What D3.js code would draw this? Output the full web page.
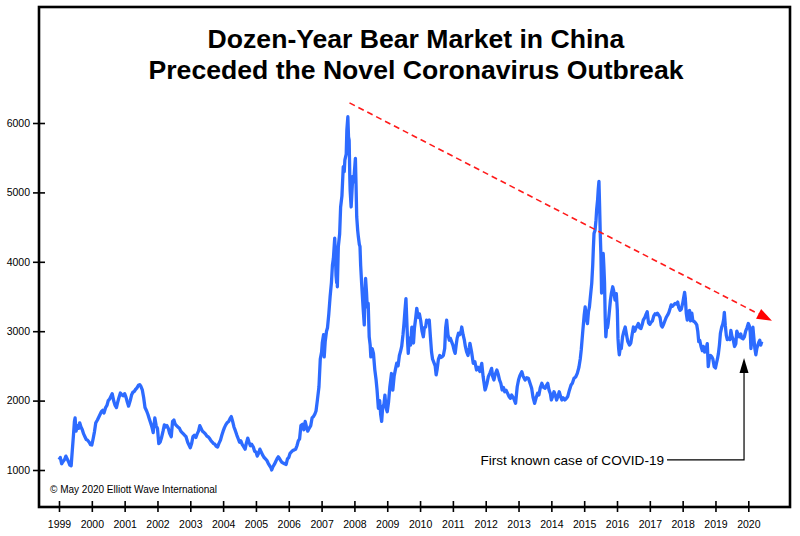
<!DOCTYPE html>
<html><head><meta charset="utf-8">
<script src="https://cdn.jsdelivr.net/npm/d3@7"></script>
<style>body{margin:0;background:#fff}svg{display:block}text{font-family:"Liberation Sans",Arial,sans-serif}</style>
</head><body><svg id="c" width="800" height="536"></svg>
<script>
const titleLines = ["Dozen-Year Bear Market in China", "Preceded the Novel Coronavirus Outbreak"];
const yearTicks = d3.range(1999, 2021);
const valueTicks = [1000, 2000, 3000, 4000, 5000, 6000];
const copyright = "© May 2020 Elliott Wave International";
const covidLabel = "First known case of COVID-19";
// [decimal year, Shanghai Composite]
const sse = [
[1999.00,1150],[1999.04,1180],[1999.08,1090],[1999.12,1120],[1999.17,1150],[1999.21,1200],[1999.25,1160],[1999.29,1120],[1999.33,1070],[1999.37,1060],[1999.40,1250],[1999.44,1500],[1999.47,1700],[1999.49,1750],[1999.52,1560],[1999.56,1640],[1999.60,1600],[1999.63,1680],[1999.67,1620],[1999.71,1580],[1999.75,1520],[1999.79,1480],[1999.83,1440],[1999.87,1430],[1999.92,1400],[1999.96,1366],
[2000.00,1360],[2000.04,1450],[2000.08,1550],[2000.12,1680],[2000.17,1720],[2000.21,1760],[2000.25,1800],[2000.29,1840],[2000.33,1860],[2000.37,1820],[2000.42,1900],[2000.46,1930],[2000.50,2000],[2000.54,2020],[2000.58,2060],[2000.62,2100],[2000.67,1990],[2000.71,1930],[2000.75,1900],[2000.79,1980],[2000.83,2050],[2000.87,2110],[2000.92,2080],[2000.96,2070],
[2001.00,2100],[2001.04,2050],[2001.08,1980],[2001.12,1920],[2001.17,2000],[2001.21,2080],[2001.25,2120],[2001.29,2130],[2001.33,2160],[2001.37,2180],[2001.42,2220],[2001.46,2230],[2001.50,2200],[2001.54,2150],[2001.58,2040],[2001.62,1900],[2001.67,1850],[2001.71,1800],[2001.75,1740],[2001.79,1680],[2001.83,1620],[2001.87,1540],[2001.92,1750],[2001.96,1640],
[2002.00,1600],[2002.04,1380],[2002.08,1400],[2002.12,1460],[2002.17,1560],[2002.21,1650],[2002.25,1620],[2002.29,1640],[2002.33,1600],[2002.37,1530],[2002.42,1480],[2002.46,1700],[2002.50,1720],[2002.54,1660],[2002.58,1640],[2002.62,1620],[2002.67,1600],[2002.71,1560],[2002.75,1540],[2002.79,1520],[2002.83,1500],[2002.87,1480],[2002.92,1400],[2002.96,1360],
[2003.00,1320],[2003.04,1380],[2003.08,1480],[2003.12,1500],[2003.17,1470],[2003.21,1520],[2003.25,1560],[2003.29,1640],[2003.33,1600],[2003.37,1560],[2003.42,1540],[2003.46,1520],[2003.50,1490],[2003.54,1480],[2003.58,1460],[2003.62,1430],[2003.67,1400],[2003.71,1380],[2003.75,1370],[2003.79,1340],[2003.83,1330],[2003.87,1380],[2003.92,1430],[2003.96,1500],
[2004.00,1560],[2004.04,1610],[2004.08,1650],[2004.12,1680],[2004.17,1700],[2004.21,1740],[2004.25,1770],[2004.29,1700],[2004.33,1620],[2004.37,1570],[2004.42,1500],[2004.46,1450],[2004.50,1400],[2004.54,1420],[2004.58,1370],[2004.62,1340],[2004.67,1300],[2004.71,1390],[2004.75,1460],[2004.79,1400],[2004.83,1350],[2004.87,1370],[2004.92,1330],[2004.96,1270],
[2005.00,1260],[2005.04,1200],[2005.08,1240],[2005.12,1300],[2005.17,1250],[2005.21,1210],[2005.25,1180],[2005.29,1160],[2005.33,1140],[2005.37,1100],[2005.42,1060],[2005.46,1030],[2005.48,1000],[2005.52,1050],[2005.56,1080],[2005.60,1120],[2005.64,1160],[2005.68,1190],[2005.71,1170],[2005.75,1140],[2005.79,1110],[2005.83,1100],[2005.87,1090],[2005.92,1080],[2005.96,1160],
[2006.00,1180],[2006.04,1240],[2006.08,1260],[2006.12,1280],[2006.17,1290],[2006.21,1300],[2006.25,1350],[2006.29,1420],[2006.33,1450],[2006.37,1640],[2006.42,1660],[2006.46,1580],[2006.50,1700],[2006.54,1620],[2006.58,1560],[2006.62,1600],[2006.67,1640],[2006.71,1750],[2006.75,1770],[2006.79,1800],[2006.83,1850],[2006.87,2000],[2006.92,2200],[2006.96,2600],
[2007.00,2700],[2007.02,2830],[2007.06,2950],[2007.08,2630],[2007.11,2850],[2007.15,3000],[2007.18,3050],[2007.22,3250],[2007.26,3500],[2007.30,3700],[2007.33,3950],[2007.36,4050],[2007.40,4340],[2007.42,4100],[2007.44,3800],[2007.46,3700],[2007.47,3900],[2007.48,3640],[2007.51,4220],[2007.55,4400],[2007.58,4790],[2007.62,4950],[2007.66,5370],[2007.69,5300],[2007.71,5470],[2007.75,5550],[2007.77,5900],[2007.80,6090],[2007.82,5800],[2007.84,5750],[2007.86,5200],[2007.87,5030],[2007.90,4790],[2007.93,5050],[2007.95,5230],[2007.98,5150],
[2008.00,5300],[2008.03,5490],[2008.05,5100],[2008.07,4650],[2008.10,4450],[2008.12,4360],[2008.15,4250],[2008.17,4220],[2008.19,3950],[2008.22,3690],[2008.25,3450],[2008.27,3300],[2008.30,3090],[2008.32,3500],[2008.34,3760],[2008.37,3550],[2008.39,3350],[2008.42,3400],[2008.45,2920],[2008.48,2800],[2008.50,2630],[2008.54,2750],[2008.58,2680],[2008.62,2450],[2008.66,2300],[2008.69,2150],[2008.73,1890],[2008.77,2000],[2008.80,1800],[2008.83,1700],[2008.86,1900],[2008.90,1950],[2008.93,2080],[2008.96,1900],
[2009.00,1840],[2009.04,1980],[2009.08,2200],[2009.13,2390],[2009.17,2150],[2009.21,2350],[2009.25,2450],[2009.29,2540],[2009.33,2500],[2009.37,2650],[2009.40,2700],[2009.44,2780],[2009.48,2950],[2009.51,3110],[2009.54,3300],[2009.57,3470],[2009.60,3100],[2009.62,2850],[2009.64,2680],[2009.67,2900],[2009.71,2800],[2009.75,3060],[2009.78,3000],[2009.80,2830],[2009.83,3050],[2009.87,3200],[2009.90,3330],[2009.94,3200],[2009.98,3250],
[2010.02,3150],[2010.06,3000],[2010.10,2920],[2010.13,3050],[2010.17,3060],[2010.20,3160],[2010.24,3130],[2010.28,3160],[2010.31,2950],[2010.35,2700],[2010.38,2600],[2010.42,2550],[2010.46,2500],[2010.49,2370],[2010.52,2450],[2010.56,2600],[2010.60,2650],[2010.63,2620],[2010.67,2630],[2010.71,2650],[2010.75,2750],[2010.78,3050],[2010.81,3160],[2010.85,2950],[2010.89,2870],[2010.92,2900],[2010.96,2850],
[2011.00,2800],[2011.04,2720],[2011.07,2680],[2011.10,2800],[2011.13,2900],[2011.17,2970],[2011.21,2950],[2011.25,3000],[2011.27,3060],[2011.31,2950],[2011.35,2870],[2011.38,2780],[2011.42,2700],[2011.46,2650],[2011.50,2760],[2011.52,2825],[2011.57,2700],[2011.62,2537],[2011.67,2560],[2011.72,2441],[2011.77,2480],[2011.82,2420],[2011.88,2537],[2011.92,2350],[2011.98,2153],
[2012.00,2180],[2012.04,2250],[2012.08,2345],[2012.13,2400],[2012.18,2465],[2012.21,2350],[2012.25,2297],[2012.29,2380],[2012.34,2441],[2012.38,2380],[2012.42,2297],[2012.46,2250],[2012.50,2153],[2012.54,2190],[2012.58,2128],[2012.62,2150],[2012.67,2100],[2012.71,2060],[2012.75,2033],[2012.79,2080],[2012.83,2050],[2012.87,2010],[2012.91,1961],[2012.96,2200],
[2013.00,2297],[2013.04,2360],[2013.10,2417],[2013.14,2350],[2013.20,2297],[2013.25,2330],[2013.30,2321],[2013.35,2250],[2013.40,2177],[2013.44,2050],[2013.49,1961],[2013.53,2030],[2013.58,2105],[2013.62,2080],[2013.66,2180],[2013.71,2249],[2013.76,2190],[2013.81,2177],[2013.85,2220],[2013.89,2249],[2013.93,2150],[2013.97,2100],
[2014.00,2009],[2014.04,2060],[2014.08,2128],[2014.12,2080],[2014.16,2009],[2014.20,2060],[2014.24,2128],[2014.28,2060],[2014.32,2009],[2014.36,2040],[2014.41,2009],[2014.46,2033],[2014.50,2060],[2014.55,2150],[2014.60,2225],[2014.64,2250],[2014.69,2321],[2014.74,2340],[2014.79,2393],[2014.84,2480],[2014.88,2600],[2014.91,2729],[2014.96,3017],
[2015.00,3230],[2015.03,3350],[2015.06,3200],[2015.10,3110],[2015.13,3280],[2015.16,3350],[2015.19,3500],[2015.23,3690],[2015.26,3950],[2015.28,4200],[2015.30,4410],[2015.33,4450],[2015.36,4600],[2015.38,4750],[2015.41,4900],[2015.43,5050],[2015.45,5160],[2015.47,4800],[2015.49,4400],[2015.51,4100],[2015.53,3550],[2015.55,3900],[2015.58,4120],[2015.60,3930],[2015.62,3700],[2015.64,3200],[2015.66,2920],[2015.69,3100],[2015.71,3050],[2015.73,3110],[2015.76,3250],[2015.80,3450],[2015.83,3550],[2015.87,3640],[2015.90,3580],[2015.94,3450],[2015.98,3540],
[2016.01,3300],[2016.03,2900],[2016.05,2750],[2016.07,2660],[2016.10,2760],[2016.13,2750],[2016.17,2920],[2016.21,3000],[2016.25,3060],[2016.29,2950],[2016.33,2850],[2016.38,2800],[2016.42,2830],[2016.46,2950],[2016.50,3060],[2016.54,3000],[2016.58,3050],[2016.62,3080],[2016.65,3110],[2016.69,3050],[2016.73,3040],[2016.77,3100],[2016.80,3160],[2016.85,3200],[2016.89,3250],[2016.92,3280],[2016.96,3120],
[2017.00,3100],[2017.04,3130],[2017.08,3150],[2017.12,3220],[2017.16,3250],[2017.19,3240],[2017.23,3260],[2017.27,3230],[2017.31,3200],[2017.35,3080],[2017.38,3060],[2017.42,3100],[2017.46,3150],[2017.50,3200],[2017.54,3230],[2017.58,3270],[2017.62,3330],[2017.65,3380],[2017.69,3360],[2017.73,3380],[2017.77,3400],[2017.81,3390],[2017.85,3420],[2017.88,3340],[2017.92,3300],[2017.96,3320],
[2018.00,3400],[2018.03,3480],[2018.06,3560],[2018.08,3480],[2018.11,3260],[2018.14,3160],[2018.17,3280],[2018.21,3300],[2018.24,3150],[2018.28,3260],[2018.31,3150],[2018.35,3140],[2018.39,3120],[2018.43,3090],[2018.46,3000],[2018.49,2850],[2018.52,2870],[2018.56,2780],[2018.60,2720],[2018.63,2780],[2018.67,2700],[2018.71,2730],[2018.75,2820],[2018.78,2490],[2018.81,2600],[2018.85,2650],[2018.89,2630],[2018.92,2600],[2018.96,2490],
[2019.00,2470],[2019.03,2540],[2019.06,2600],[2019.09,2680],[2019.12,2800],[2019.15,2970],[2019.19,3060],[2019.22,3100],[2019.25,3170],[2019.27,3270],[2019.30,3080],[2019.33,2940],[2019.36,2880],[2019.40,2900],[2019.44,2880],[2019.47,3010],[2019.50,2930],[2019.54,2880],[2019.58,2780],[2019.62,2820],[2019.65,3000],[2019.69,2950],[2019.73,2920],[2019.77,2960],[2019.80,2900],[2019.84,2890],[2019.88,2920],[2019.92,3000],[2019.96,3050],
[2020.00,3110],[2020.03,3080],[2020.06,2980],[2020.08,2750],[2020.11,2880],[2020.14,3060],[2020.17,2900],[2020.20,2750],[2020.23,2660],[2020.26,2750],[2020.29,2800],[2020.32,2840],[2020.35,2870],[2020.38,2800],[2020.41,2850]
];
// trend arrow (from, to) and COVID arrow points in data units
const trendLine = [[2007.85, 6290], [2020.72, 3150]];
const covidArrow = [[2019.87, 1145], [2019.87, 2614]];

const svg = d3.select("#c");
const frame = {left: 39, top: 7, right: 790, bottom: 507};
const x = d3.scaleLinear().domain([1999, 2020]).range([59, 748.3]);
const y = d3.scaleLinear().domain([1000, 6000]).range([470, 123]);

// frame
svg.append("rect").attr("x", frame.left).attr("y", frame.top)
  .attr("width", frame.right - frame.left).attr("height", frame.bottom - frame.top)
  .attr("fill", "none").attr("stroke", "#000").attr("stroke-width", 2.6);

// y axis
const yAxis = svg.append("g").attr("transform", `translate(${frame.left},0)`)
  .call(d3.axisLeft(y).tickValues(valueTicks).tickSize(6).tickPadding(3).tickFormat(d3.format("d")));
yAxis.select(".domain").remove();
yAxis.selectAll(".tick line").attr("x1", 6).attr("stroke", "#000").attr("stroke-width", 1.6);
yAxis.selectAll(".tick text").attr("font-size", 10.5).attr("fill", "#000")
  .attr("font-family", '"Liberation Sans",Arial,sans-serif');

// x axis
const xAxis = svg.append("g").attr("transform", `translate(0,${frame.bottom})`)
  .call(d3.axisBottom(x).tickValues(yearTicks).tickSize(5).tickPadding(9).tickFormat(d3.format("d")));
xAxis.select(".domain").remove();
xAxis.selectAll(".tick line").attr("y1", -6).attr("stroke", "#000").attr("stroke-width", 1.6);
xAxis.selectAll(".tick text").attr("font-size", 10.5).attr("fill", "#000")
  .attr("font-family", '"Liberation Sans",Arial,sans-serif');

// title
svg.append("g").selectAll("text").data(titleLines).join("text")
  .attr("x", 416).attr("y", (d, i) => 48 + i * 31)
  .attr("text-anchor", "middle").attr("font-size", 26.6).attr("font-weight", "bold").attr("fill", "#000")
  .text(d => d);

// series line
const line = d3.line().x(d => x(d[0])).y(d => y(d[1]));
svg.append("path").datum(sse).attr("d", line)
  .attr("fill", "none").attr("stroke", "#2d6bff").attr("stroke-width", 3.3).attr("stroke-linejoin", "round");

// red dashed trend arrow
const p0 = [x(trendLine[0][0]), y(trendLine[0][1])];
const p1 = [x(trendLine[1][0]), y(trendLine[1][1])];
const ang = Math.atan2(p1[1] - p0[1], p1[0] - p0[0]);
const headLen = 15, headHalf = 5.5;
const base = [p1[0] - headLen * Math.cos(ang), p1[1] - headLen * Math.sin(ang)];
svg.append("line").attr("x1", p0[0]).attr("y1", p0[1]).attr("x2", base[0]).attr("y2", base[1])
  .attr("stroke", "#ff1a1a").attr("stroke-width", 1.6).attr("stroke-dasharray", "6,4");
svg.append("path")
  .attr("d", `M${p1[0]},${p1[1]}L${base[0] - headHalf * Math.sin(ang)},${base[1] + headHalf * Math.cos(ang)}L${base[0] + headHalf * Math.sin(ang)},${base[1] - headHalf * Math.cos(ang)}Z`)
  .attr("fill", "#ff0000");

// COVID annotation
const cx = x(covidArrow[0][0]);
const cyLow = y(covidArrow[0][1]);
const cyTip = y(covidArrow[1][1]);
svg.append("text").attr("x", cx - 80).attr("y", cyLow + 5.5)
  .attr("text-anchor", "end").attr("font-size", 13.6).attr("fill", "#000").text(covidLabel);
svg.append("path").attr("d", `M${cx - 77},${cyLow}H${cx}V${cyTip + 14}`)
  .attr("fill", "none").attr("stroke", "#000").attr("stroke-width", 1.2);
svg.append("path").attr("d", `M${cx},${cyTip}L${cx - 4.5},${cyTip + 15}L${cx + 4.5},${cyTip + 15}Z`).attr("fill", "#000");

// copyright
svg.append("text").attr("x", 50).attr("y", 493).attr("font-size", 10).attr("fill", "#000").text(copyright);
</script></body></html>
